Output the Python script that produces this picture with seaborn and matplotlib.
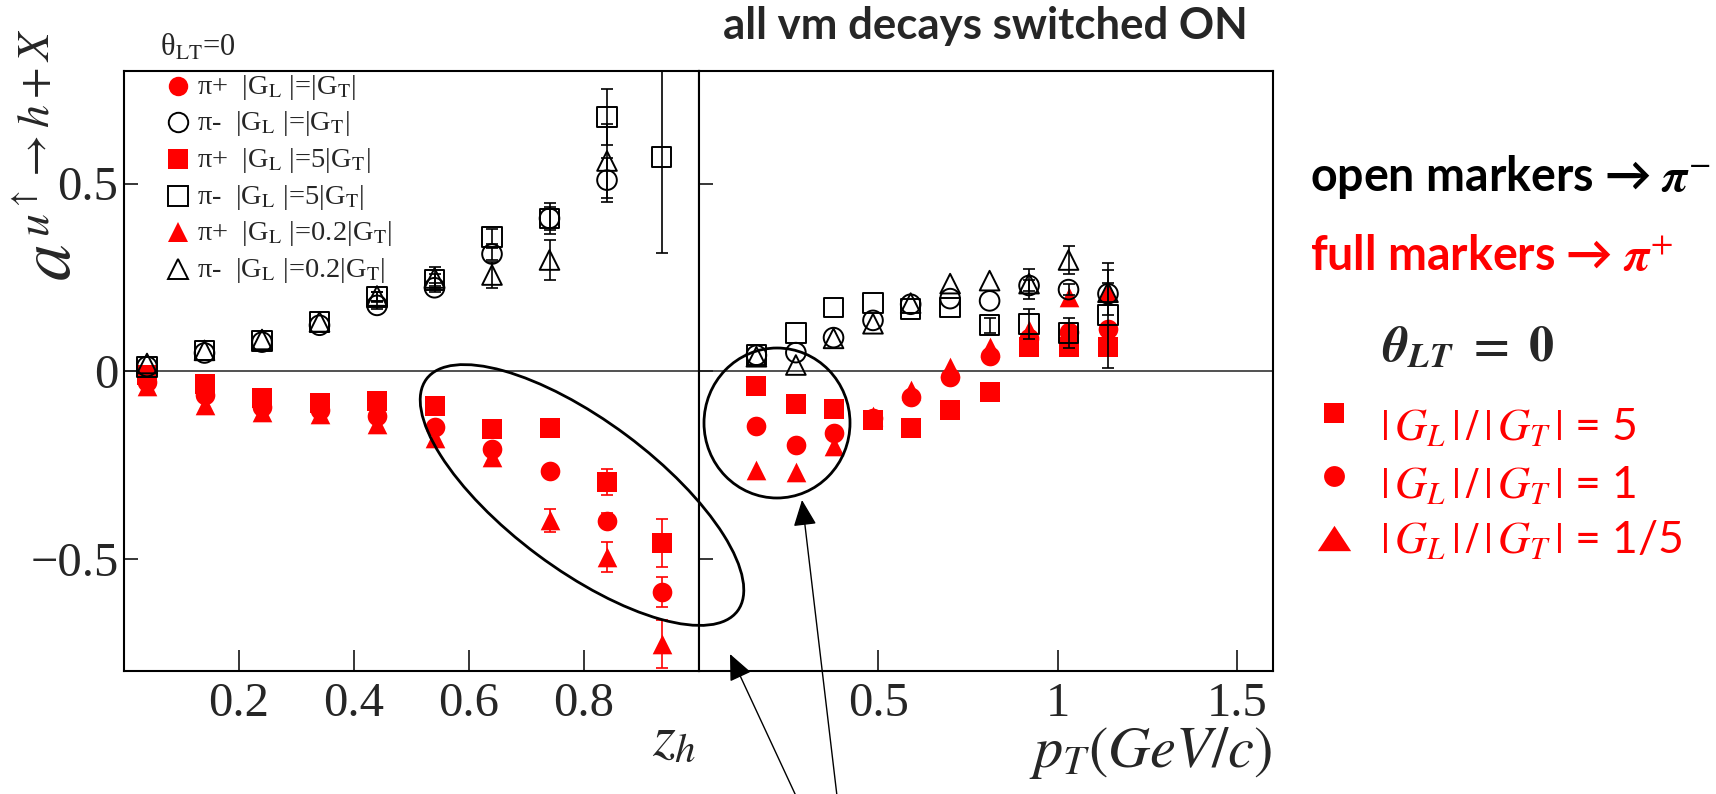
import numpy as np
import pandas as pd
import seaborn as sns
import matplotlib
matplotlib.use("Agg")
import matplotlib.pyplot as plt
from matplotlib.lines import Line2D
from matplotlib.patches import Ellipse, FancyArrowPatch

nan = np.nan

# ---------------- data ----------------
# z_h bins (left panel) and p_T bins in GeV/c (right panel)
zh = [0.04, 0.14, 0.24, 0.34, 0.44, 0.54, 0.64, 0.74, 0.84, 0.935]
pt = [0.16, 0.27, 0.375, 0.485, 0.59, 0.70, 0.81, 0.92, 1.03, 1.14]

# pi+ analysing power vs z_h for |G_L|/|G_T| = 1, 5, 0.2
zh_pip_r1 = [-0.030, -0.064, -0.095, -0.104, -0.120, -0.148, -0.208, -0.266, -0.399, -0.589]
zh_pip_r5 = [-0.010, -0.035, -0.073, -0.086, -0.079, -0.093, -0.154, -0.152, -0.296, -0.458]
zh_pip_r02 = [-0.040, -0.090, -0.110, -0.114, -0.141, -0.179, -0.230, -0.398, -0.496, -0.729]
zh_pip_r1_err = [nan, nan, nan, nan, nan, nan, nan, 0.015, 0.020, 0.040]
zh_pip_r5_err = [nan, nan, nan, nan, nan, nan, nan, 0.015, 0.035, 0.064]
zh_pip_r02_err = [nan, nan, nan, nan, nan, nan, 0.015, 0.031, 0.040, 0.064]

# pi- analysing power vs z_h
zh_pim_r1 = [0.012, 0.048, 0.077, 0.122, 0.175, 0.222, 0.312, 0.407, 0.509, nan]
zh_pim_r5 = [0.010, 0.055, 0.080, 0.131, 0.198, 0.243, 0.358, 0.407, 0.678, 0.571]
zh_pim_r02 = [0.020, 0.055, 0.084, 0.131, 0.200, 0.248, 0.256, 0.296, 0.560, nan]
zh_pim_r1_err = [nan, nan, nan, nan, 0.010, 0.012, 0.015, 0.042, 0.058, nan]
zh_pim_r5_err = [nan, nan, nan, nan, 0.012, 0.015, 0.020, 0.030, 0.075, 0.256]
zh_pim_r02_err = [nan, nan, nan, nan, 0.012, 0.030, 0.034, 0.053, 0.100, nan]

# pi+ analysing power vs p_T
pt_pip_r1 = [-0.147, -0.198, -0.165, -0.125, -0.069, -0.015, 0.040, 0.087, 0.104, 0.113]
pt_pip_r5 = [-0.040, -0.089, -0.100, -0.130, -0.153, -0.105, -0.056, 0.065, 0.065, 0.065]
pt_pip_r02 = [-0.264, -0.269, -0.200, -0.120, -0.050, 0.012, 0.065, 0.109, 0.197, 0.210]
pt_pip_r1_err = [nan] * 10
pt_pip_r5_err = [nan] * 10
pt_pip_r02_err = [nan] * 10

# pi- analysing power vs p_T
pt_pim_r1 = [0.042, 0.049, 0.089, 0.135, 0.178, 0.193, 0.187, 0.228, 0.217, 0.206]
pt_pim_r5 = [0.042, 0.102, 0.169, 0.181, 0.166, 0.169, 0.122, 0.126, 0.102, 0.149]
pt_pim_r02 = [0.038, 0.016, 0.087, 0.126, 0.181, 0.233, 0.241, 0.233, 0.296, 0.210]
pt_pim_r1_err = [nan, nan, nan, nan, nan, nan, nan, 0.015, 0.015, 0.030]
pt_pim_r5_err = [nan, nan, nan, nan, nan, nan, 0.020, 0.040, 0.040, 0.140]
pt_pim_r02_err = [nan, nan, nan, nan, nan, nan, nan, 0.040, 0.038, 0.060]

ratios = ["5", "1", "0.2"]
legend_labels = [
    ("+", "1", r"π+  |G$_{\rm L}$ |=|G$_{\rm T}$|"),
    ("-", "1", r"π-  |G$_{\rm L}$ |=|G$_{\rm T}$|"),
    ("+", "5", r"π+  |G$_{\rm L}$ |=5|G$_{\rm T}$|"),
    ("-", "5", r"π-  |G$_{\rm L}$ |=5|G$_{\rm T}$|"),
    ("+", "0.2", r"π+  |G$_{\rm L}$ |=0.2|G$_{\rm T}$|"),
    ("-", "0.2", r"π-  |G$_{\rm L}$ |=0.2|G$_{\rm T}$|"),
]
side_labels = [("5", r"$|\,G_L\,|\,/\,|\,G_T\,|$ = 5"),
               ("1", r"$|\,G_L\,|\,/\,|\,G_T\,|$ = 1"),
               ("0.2", r"$|\,G_L\,|\,/\,|\,G_T\,|$ = 1/5")]

series = {
    ("zh", "+", "1"): (zh, zh_pip_r1, zh_pip_r1_err),
    ("zh", "+", "5"): (zh, zh_pip_r5, zh_pip_r5_err),
    ("zh", "+", "0.2"): (zh, zh_pip_r02, zh_pip_r02_err),
    ("zh", "-", "1"): (zh, zh_pim_r1, zh_pim_r1_err),
    ("zh", "-", "5"): (zh, zh_pim_r5, zh_pim_r5_err),
    ("zh", "-", "0.2"): (zh, zh_pim_r02, zh_pim_r02_err),
    ("pt", "+", "1"): (pt, pt_pip_r1, pt_pip_r1_err),
    ("pt", "+", "5"): (pt, pt_pip_r5, pt_pip_r5_err),
    ("pt", "+", "0.2"): (pt, pt_pip_r02, pt_pip_r02_err),
    ("pt", "-", "1"): (pt, pt_pim_r1, pt_pim_r1_err),
    ("pt", "-", "5"): (pt, pt_pim_r5, pt_pim_r5_err),
    ("pt", "-", "0.2"): (pt, pt_pim_r02, pt_pim_r02_err),
}
frames = []
for (panel, pion, ratio), (xs, ys, es) in series.items():
    frames.append(pd.DataFrame({"panel": panel, "pion": pion, "ratio": ratio,
                                "x": xs, "y": ys, "err": es}))
df = pd.concat(frames, ignore_index=True).dropna(subset=["y"])

# ---------------- style ----------------
sns.set_style("ticks")
plt.rcParams["font.family"] = ["Liberation Serif", "DejaVu Serif"]
plt.rcParams["mathtext.fontset"] = "stix"

RED = "#ff0000"
markers = {"1": "o", "5": "s", "0.2": "^"}
SANS = ["Lato", "DejaVu Sans"]

W, H = 1716, 794
fig = plt.figure(figsize=(W / 100, H / 100), dpi=100, facecolor="white")


def fx(px):
    return px / W


def fy(py):
    return 1 - py / H


axL = fig.add_axes([fx(124), fy(671), (699 - 124) / W, 600 / H])
axR = fig.add_axes([fx(699), fy(671), (1273 - 699) / W, 600 / H])

for panel, ax in (("zh", axL), ("pt", axR)):
    ax.axhline(0, color="#222222", lw=1.1, zorder=1)
    for pion in ("+", "-"):
        for ratio in ratios:
            d = df[(df.panel == panel) & (df.pion == pion) & (df.ratio == ratio)]
            col = RED if pion == "+" else "black"
            zb = 2 if pion == "+" else 4
            de = d.dropna(subset=["err"])
            if len(de):
                ax.errorbar(de.x, de.y, yerr=de.err, fmt="none", ecolor=col,
                            elinewidth=1.2, capsize=4.5, capthick=1.2, zorder=zb)
            if pion == "+":
                sns.scatterplot(data=d, x="x", y="y", marker=markers[ratio], s=200,
                                color=RED, edgecolor=RED, linewidth=0,
                                ax=ax, zorder=zb + 1, legend=False)
            else:
                sns.scatterplot(data=d, x="x", y="y", marker=markers[ratio], s=200,
                                color="black", facecolor="none", edgecolor="black",
                                linewidth=1.4, ax=ax, zorder=zb + 1, legend=False)

    ax.set_ylim(-0.8, 0.8)
    ax.set_yticks([-0.5, 0, 0.5])
    ax.tick_params(axis="both", direction="in", top=False, right=False,
                   labelsize=35, width=1.3)
    ax.tick_params(axis="x", length=15, pad=8)
    ax.tick_params(axis="y", length=10, pad=4)
    for sp in ax.spines.values():
        sp.set_visible(True)
        sp.set_linewidth(1.5)
        sp.set_color("black")
    ax.set_xlabel("")
    ax.set_ylabel("")

axL.set_xlim(0, 1)
axL.set_xticks([0.2, 0.4, 0.6, 0.8])
axL.set_xticklabels(["0.2", "0.4", "0.6", "0.8"])
axL.set_yticklabels(["\u22120.5", "0", "0.5"])
axR.set_xlim(0, 1.6)
axR.set_xticks([0.5, 1, 1.5])
axR.set_xticklabels(["0.5", "1", "1.5"])
axR.tick_params(axis="y", labelleft=False)

# y axis label: the symbol "a" with its raised index written alongside it
fig.text(fx(70), fy(281), r"$a$", fontsize=53, rotation=90,
         rotation_mode="anchor", ha="left", va="baseline")
fig.text(fx(50), fy(237), r"$u^{\uparrow}\rightarrow h+X$", fontsize=33, rotation=90,
         rotation_mode="anchor", ha="left", va="baseline")

axL.set_xlabel(r"$z_h$", fontsize=42)
axL.xaxis.set_label_coords((696 - 124) / 575, (671 - 755) / 600)
axL.xaxis.label.set_horizontalalignment("right")
axL.xaxis.label.set_verticalalignment("baseline")

axR.set_xlabel(r"$p_T(GeV/c)$", fontsize=42)
axR.xaxis.set_label_coords((1272 - 699) / 574, (671 - 767) / 600)
axR.xaxis.label.set_horizontalalignment("right")
axR.xaxis.label.set_verticalalignment("baseline")

# legend of the six curves (top left of the z_h panel)
fig.text(fx(160), fy(56), r"θ$_{\rm LT}$=0", fontsize=22, va="baseline", ha="left")
row_y = [86, 122, 159, 196, 232, 269]
for (pion, ratio, text), yy in zip(legend_labels, row_y):
    if pion == "+":
        h = Line2D([fx(178)], [fy(yy)], marker=markers[ratio], ms=14, color=RED,
                   mec=RED, mew=0, ls="none", transform=fig.transFigure)
    else:
        h = Line2D([fx(178)], [fy(yy)], marker=markers[ratio], ms=14, mfc="none",
                   mec="black", mew=1.4, ls="none", transform=fig.transFigure)
    fig.add_artist(h)
    fig.text(fx(197), fy(yy + 8), text, fontsize=20.5, va="baseline", ha="left")

# title
fig.text(fx(723), fy(39), "all vm decays switched ON", fontsize=31.5,
         fontweight="bold", family=SANS, va="baseline", ha="left")

# annotations on the right
fig.text(fx(1310), fy(191), r"open markers → $\boldsymbol{\pi}^{-}$", fontsize=33.5,
         fontweight="bold", family=SANS, color="black", va="baseline", ha="left")
fig.text(fx(1310), fy(270), r"full markers → $\boldsymbol{\pi}^{+}$", fontsize=33.5,
         fontweight="bold", family=SANS, color=RED, va="baseline", ha="left")
fig.text(fx(1382), fy(361), r"$\boldsymbol{\theta}_{\boldsymbol{LT}}\ \mathbf{=\ 0}$",
         fontsize=36, va="baseline", ha="left")
side_marker_y = [413, 476, 538]
side_text_y = [440, 498, 553]
wide_triangle = [(-1, -0.76), (1, -0.76), (0, 0.76)]
side_marker = {"5": ("s", 15), "1": ("o", 15), "0.2": (wide_triangle, 24)}
for (ratio, text), my, ty in zip(side_labels, side_marker_y, side_text_y):
    mk, ms = side_marker[ratio]
    fig.add_artist(Line2D([fx(1334)], [fy(my)], marker=mk, ms=ms,
                          color=RED, mew=0, ls="none", transform=fig.transFigure))
    fig.text(fx(1380), fy(ty), text, fontsize=32, color=RED,
             family=SANS, va="baseline", ha="left")

# highlighted regions and pointers
tr = fig.dpi_scale_trans
fig.add_artist(Ellipse((5.82, (H - 495) / 100), 3.88, 1.49, angle=-36.7,
                       fill=False, ec="black", lw=2.0, transform=tr))
fig.add_artist(Ellipse((7.77, (H - 423) / 100), 1.46, 1.50, angle=0,
                       fill=False, ec="black", lw=2.0, transform=tr))
for (x0, y0), (x1, y1) in [((796, 796), (730, 654)), ((837, 796), (802, 500))]:
    fig.add_artist(FancyArrowPatch((x0 / 100, (H - y0) / 100), (x1 / 100, (H - y1) / 100),
                                   arrowstyle="-|>,head_length=0.9,head_width=0.4",
                                   mutation_scale=18, lw=1.0, color="black",
                                   shrinkA=0, shrinkB=0, transform=tr))

fig.savefig("out.png", dpi=100, facecolor="white")
